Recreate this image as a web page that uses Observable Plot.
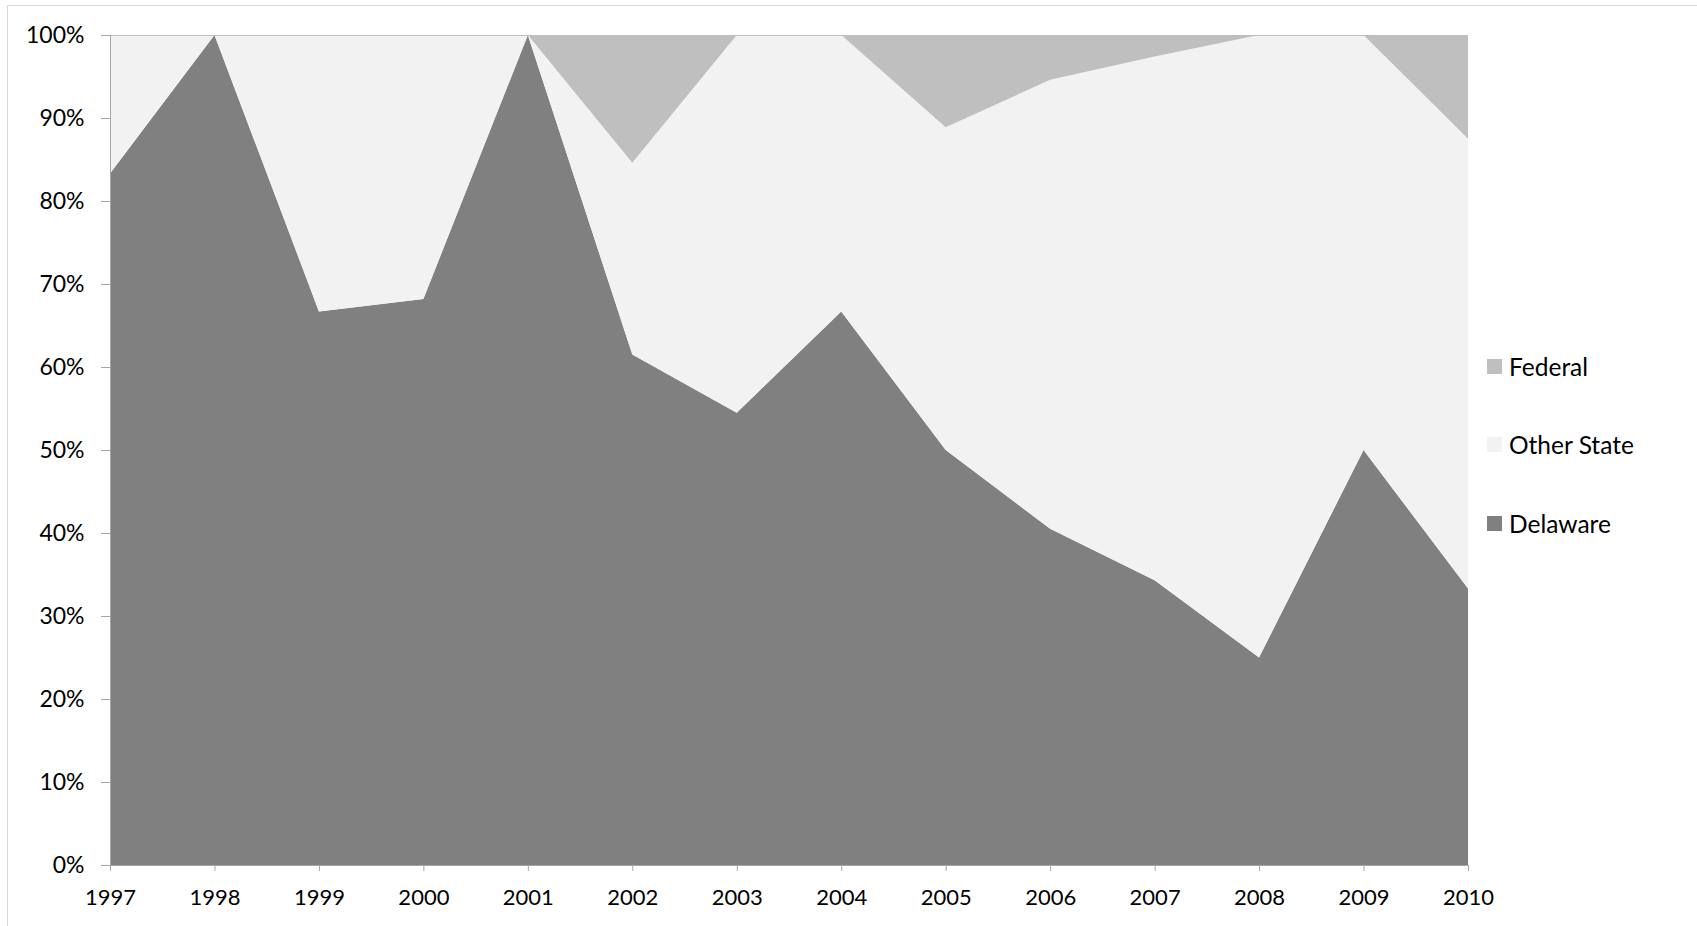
<!DOCTYPE html>
<html>
<head>
<meta charset="utf-8">
<script src="https://cdn.jsdelivr.net/npm/d3@7"></script>
<script src="https://cdn.jsdelivr.net/npm/@observablehq/plot@0.6"></script>
<style>
  html, body { margin: 0; padding: 0; background: #fff; overflow: hidden; }
  #wrap { position: relative; width: 1697px; height: 926px; font-family: Lato, "Open Sans", sans-serif; }
  #frame { position: absolute; left: 7px; top: 5px; width: 1700px; height: 940px; border: 1px solid #d9d9d9; box-sizing: border-box; pointer-events: none; }
  #legend { position: absolute; left: 1487px; top: 349px; font-size: 24.5px; color: #000; }
  #legend .row { display: flex; align-items: center; height: 34px; margin-bottom: 44.5px; }
  #legend .sw { width: 15px; height: 15px; margin-right: 7px; }
  svg { position: absolute; left: 0; top: 0; }
</style>
</head>
<body>
<div id="wrap">
  <div id="chart"></div>
  <div id="frame"></div>
  <div id="legend"></div>
</div>
<script>
const years = [1997, 1998, 1999, 2000, 2001, 2002, 2003, 2004, 2005, 2006, 2007, 2008, 2009, 2010];
const delaware   = [0.833, 1.000, 0.667, 0.682, 1.000, 0.615, 0.545, 0.667, 0.500, 0.405, 0.343, 0.250, 0.500, 0.333];
const otherState = [0.167, 0.000, 0.333, 0.318, 0.000, 0.231, 0.455, 0.333, 0.389, 0.541, 0.631, 0.750, 0.500, 0.542];
const federal    = [0.000, 0.000, 0.000, 0.000, 0.000, 0.154, 0.000, 0.000, 0.111, 0.054, 0.026, 0.000, 0.000, 0.125];
const seriesNames = ["Delaware", "Other State", "Federal"];
const seriesColors = ["#808080", "#f2f2f2", "#bfbfbf"];
const yTicks = [0, 0.1, 0.2, 0.3, 0.4, 0.5, 0.6, 0.7, 0.8, 0.9, 1.0];

const seriesValues = [delaware, otherState, federal];
const data = [];
seriesNames.forEach((name, i) => {
  years.forEach((yr, j) => data.push({year: yr, series: name, value: seriesValues[i][j]}));
});

const pct = d => Math.round(d * 100) + "%";

const chart = Plot.plot({
  width: 1697,
  height: 926,
  marginLeft: 110,
  marginRight: 229,
  marginTop: 35,
  marginBottom: 61,
  style: {fontFamily: "Lato, 'Open Sans', sans-serif", fontSize: "22px", color: "#000", background: "transparent"},
  x: {domain: [1997, 2010], ticks: years, tickFormat: d => String(d), label: null},
  y: {domain: [0, 1], ticks: yTicks, tickFormat: pct, label: null},
  color: {domain: seriesNames, range: seriesColors},
  marks: [
    Plot.gridY(yTicks, {stroke: "#bfbfbf", strokeOpacity: 1}),
    Plot.areaY(data, {x: "year", y: "value", fill: "series", order: seriesNames, stack: true}),
    Plot.ruleY([1], {stroke: "#bfbfbf"}),
    Plot.ruleY([0], {stroke: "#a6a6a6"}),
    Plot.ruleX([1997], {stroke: "#a6a6a6"}),
    Plot.axisY({ticks: yTicks, tickFormat: pct, tickSize: 9, tickPadding: 17, stroke: "#a6a6a6", fill: "#000", fontSize: 23, label: null}),
    Plot.axisX({ticks: years, tickFormat: d => String(d), tickSize: 6, tickPadding: 18, stroke: "#a6a6a6", fill: "#000", fontSize: 22, label: null})
  ]
});
document.getElementById("chart").appendChild(chart);

const legend = document.getElementById("legend");
const legendOrder = ["Federal", "Other State", "Delaware"];
legendOrder.forEach(name => {
  const row = document.createElement("div");
  row.className = "row";
  const sw = document.createElement("div");
  sw.className = "sw";
  sw.style.background = seriesColors[seriesNames.indexOf(name)];
  const t = document.createElement("span");
  t.textContent = name;
  row.appendChild(sw);
  row.appendChild(t);
  legend.appendChild(row);
});
</script>
</body>
</html>
